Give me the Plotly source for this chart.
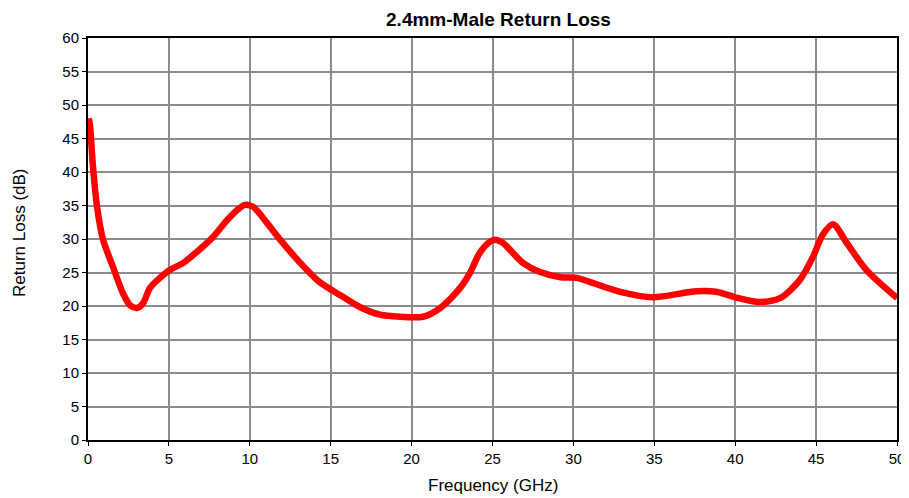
import plotly.graph_objects as go

freq_ghz = [0.05, 0.12, 0.31, 0.56, 0.93, 1.55, 2.16, 2.6, 3.03, 3.4, 3.83, 4.45, 5.07, 5.87, 6.74, 7.73, 8.59, 9.21,
            9.7, 10.2, 11.06, 11.87, 13.4, 14.3, 15.6, 16.8, 18.05, 19.3, 20.7, 21.76, 23.0, 23.6, 24.2, 24.85,
            25.15, 25.65, 26.27, 26.9, 27.9, 29.2, 30.2, 31.0, 32.9, 34.9, 37.6, 38.9, 40.0, 41.5, 42.8, 44.0,
            44.8, 45.4, 46.05, 46.9, 48.1, 50.0]
return_loss_db = [48.0, 47.0, 40.7, 34.8, 29.9, 25.8, 21.9, 20.1, 19.7, 20.4, 22.7, 24.2, 25.4, 26.4, 28.1, 30.3,
                  32.8, 34.3, 35.1, 34.8, 32.4, 29.9, 25.7, 23.6, 21.6, 19.85, 18.7, 18.4, 18.4, 19.7, 22.7, 24.9,
                  27.9, 29.6, 29.9, 29.4, 27.9, 26.4, 25.1, 24.3, 24.2, 23.6, 22.1, 21.3, 22.2, 22.1, 21.3, 20.6,
                  21.2, 23.9, 27.3, 30.6, 32.2, 29.4, 25.4, 21.2]

x_ticks = list(range(0, 51, 5))
y_ticks = list(range(0, 61, 5))

font_family = "Liberation Sans, Arial, sans-serif"

W, H = 901, 490
ML, MR, MT, MB = 80, 12, 30, 58
PW, PH = W - ML - MR, H - MT - MB

fig = go.Figure()
fig.add_trace(go.Scatter(
    x=freq_ghz, y=return_loss_db, mode="lines",
    line=dict(color="#ff0000", width=6.5, shape="spline", smoothing=0.8),
    showlegend=False,
))

fig.update_layout(
    width=W, height=H,
    margin=dict(l=ML, r=MR, t=MT, b=MB),
    paper_bgcolor="white", plot_bgcolor="white",
    font=dict(family=font_family, size=15, color="black"),
    title=dict(text="<b>2.4mm-Male Return Loss</b>", x=490.5 / W, xanchor="center", y=1 - 11 / H, yanchor="middle",
               font=dict(family=font_family, size=19, color="black")),
    xaxis=dict(
        range=[0, 50], tickvals=x_ticks, ticks="outside", ticklen=4, tickcolor="black",
        showline=True, linecolor="black", linewidth=2, mirror=True, automargin=False,
        showgrid=True, gridcolor="#8c8c8c", gridwidth=1.5, zeroline=False,
        tickfont=dict(size=15),
    ),
    yaxis=dict(
        range=[0, 60], tickvals=y_ticks, ticks="outside", ticklen=4, tickcolor="black",
        showline=True, linecolor="black", linewidth=2, mirror=True, automargin=False,
        showgrid=True, gridcolor="#8c8c8c", gridwidth=1.5, zeroline=False,
        tickfont=dict(size=15),
    ),
    annotations=[
        dict(text="Frequency (GHz)", xref="paper", yref="paper", x=0.5, y=-45 / PH,
             xanchor="center", yanchor="middle", showarrow=False, font=dict(size=17)),
        dict(text="Return Loss (dB)", xref="paper", yref="paper", x=-68 / PW, y=207 / PH,
             xanchor="center", yanchor="middle", textangle=-90, showarrow=False, font=dict(size=17)),
    ],
)

fig.write_html("out.html")
